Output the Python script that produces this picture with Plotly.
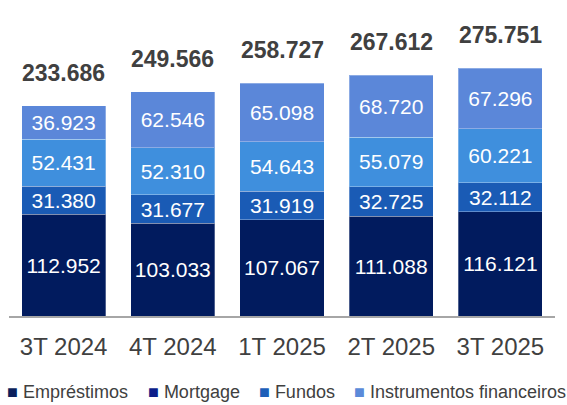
import plotly.graph_objects as go

categories = ["3T 2024", "4T 2024", "1T 2025", "2T 2025", "3T 2025"]
emprestimos = [112952, 103033, 107067, 111088, 116121]
mortgage = [31380, 31677, 31919, 32725, 32112]
fundos = [52431, 52310, 54643, 55079, 60221]
instrumentos = [36923, 62546, 65098, 68720, 67296]
totals = [233686, 249566, 258727, 267612, 275751]

legend_names = ["Empréstimos", "Mortgage", "Fundos", "Instrumentos financeiros"]
bar_colors = ["#011b5e", "#1a5bb5", "#3f8fdd", "#5b87d9"]
legend_colors = ["#0b1f5c", "#0c1e8a", "#1d5fb8", "#5b8ad9"]
legend_px = [5, 146, 257, 352]

FONT = "Liberation Sans, Arial, sans-serif"
W, H = 567, 405
ML, MR, MT, MB = 9, 12, 19, 89

fig = go.Figure()
for name, vals, col in zip(legend_names, [emprestimos, mortgage, fundos, instrumentos], bar_colors):
    fig.add_trace(go.Bar(
        x=categories, y=vals, name=name, showlegend=False,
        marker=dict(color=col, line=dict(width=1, color="rgba(255,255,255,0.3)")),
        texttemplate="%{y:,.0f}", textposition="inside",
        insidetextanchor="middle", constraintext="none", textangle=0,
        textfont=dict(color="white", size=21, family=FONT),
        hoverinfo="skip",
    ))

annotations = []
for c, t in zip(categories, totals):
    annotations.append(dict(
        x=c, y=t, xref="x", yref="y", text="<b>" + f"{t:,}".replace(",", ".") + "</b>",
        showarrow=False, yanchor="middle", yshift=33,
        font=dict(size=23, color="#404040", family=FONT),
    ))

pw = W - ML - MR
ph = H - MT - MB
for name, lc, px in zip(legend_names, legend_colors, legend_px):
    annotations.append(dict(
        x=(px - ML) / pw, y=(H - MB - 392) / ph, xref="paper", yref="paper",
        xanchor="left", yanchor="middle",
        text=f'<span style="color:{lc}">■</span> {name}',
        showarrow=False, font=dict(size=18, color="#404040", family=FONT),
    ))

fig.update_layout(
    barmode="stack", bargap=0.23, separators=",.",
    width=W, height=H,
    margin=dict(l=ML, r=MR, t=MT, b=MB, autoexpand=False),
    plot_bgcolor="white", paper_bgcolor="white",
    font=dict(family=FONT, color="#404040"),
    showlegend=False,
    annotations=annotations,
    xaxis=dict(showline=True, linecolor="#a6a6a6", linewidth=2, ticks="",
               ticklabelstandoff=8,
               tickfont=dict(size=24, color="#404040", family=FONT)),
    yaxis=dict(visible=False, range=[0, ph / 0.899 * 1000]),
)
fig.write_html("out.html", config={"displayModeBar": False},
               post_script="document.body.style.margin='0';document.body.style.overflow='hidden';")
